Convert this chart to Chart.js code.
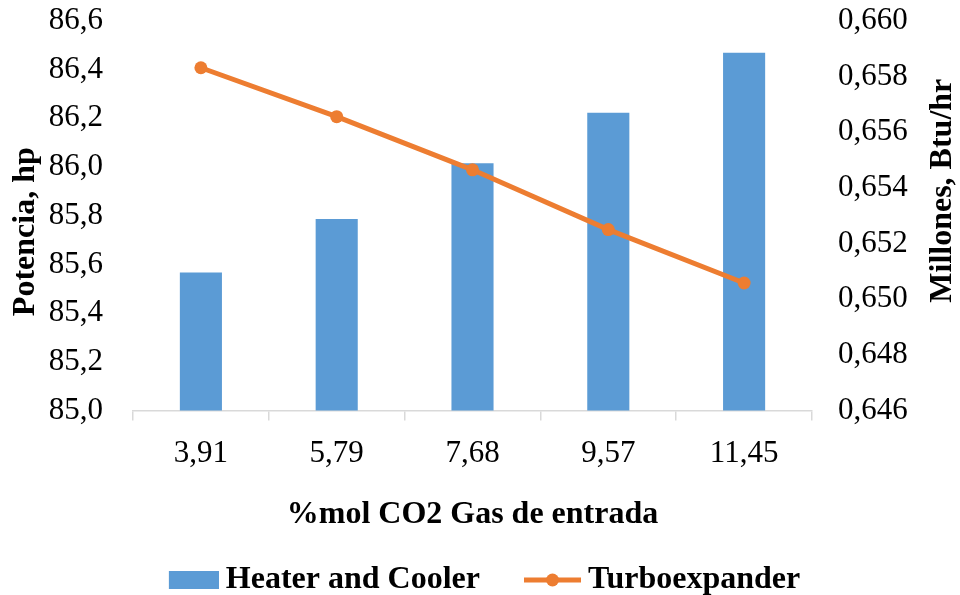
<!DOCTYPE html>
<html><head><meta charset="utf-8">
<script src="https://cdn.jsdelivr.net/npm/chart.js@4"></script>
<style>html,body{margin:0;padding:0;background:#fff}</style>
</head><body>
<canvas id="c" width="960" height="595"></canvas>
<script>
const categories = ['3,91', '5,79', '7,68', '9,57', '11,45'];
const heaterCooler = [85.567, 85.786, 86.016, 86.223, 86.47];
const turboexpander = [0.65832, 0.65656, 0.65465, 0.6525, 0.65058];
const seriesNames = ['Heater and Cooler', 'Turboexpander'];
const leftTitleText = 'Potencia, hp';
const rightTitleText = 'Millones, Btu/hr';
const xTitle = '%mol CO2 Gas de entrada';

const BLUE = '#5b9bd5', ORANGE = '#ed7d31';
const FONT = '"Liberation Serif", "Times New Roman", serif';

function legendImg(kind) {
  const W = 68, H = 20;
  const cv = document.createElement('canvas');
  cv.width = W; cv.height = H;
  const g = cv.getContext('2d');
  if (kind === 'bar') {
    g.fillStyle = BLUE;
    g.fillRect(W - 50, 1, 50, 18);
  } else {
    g.strokeStyle = ORANGE; g.lineWidth = 5;
    g.beginPath(); g.moveTo(W - 57, 10); g.lineTo(W, 10); g.stroke();
    g.fillStyle = ORANGE;
    g.beginPath(); g.arc(W - 28.5, 10, 6.5, 0, Math.PI * 2); g.fill();
  }
  return cv;
}
const imgs = [legendImg('bar'), legendImg('line')];

const axisTitlesPlugin = {
  id: 'axisTitles',
  afterDraw(chart) {
    const a = chart.chartArea, ctx = chart.ctx;
    const mid = (a.top + a.bottom) / 2;
    const draw = (text, x, y) => {
      ctx.save();
      ctx.translate(x, y);
      ctx.rotate(-Math.PI / 2);
      ctx.font = 'bold 32px ' + FONT;
      ctx.fillStyle = '#000';
      ctx.textAlign = 'center';
      ctx.textBaseline = 'middle';
      ctx.fillText(text, 0, 0);
      ctx.restore();
    };
    draw(leftTitleText, chart.scales.y.left + 26, mid + 16);
    draw(rightTitleText, chart.scales.y1.right - 17, mid - 25);
  }
};

new Chart(document.getElementById('c'), {
  data: {
    labels: categories,
    datasets: [
      { type: 'bar', label: seriesNames[0], data: heaterCooler, yAxisID: 'y',
        backgroundColor: BLUE, borderWidth: 0, barPercentage: 0.31, categoryPercentage: 1, order: 2 },
      { type: 'line', label: seriesNames[1], data: turboexpander, yAxisID: 'y1',
        borderColor: ORANGE, backgroundColor: ORANGE, borderWidth: 5, pointRadius: 6.5,
        pointHoverRadius: 6.5, pointBackgroundColor: ORANGE, pointBorderWidth: 0, tension: 0, order: 1 }
    ]
  },
  options: {
    responsive: false,
    animation: false,
    layout: { padding: { top: 21, right: 0, left: 0, bottom: -11 } },
    plugins: {
      tooltip: { enabled: false },
      legend: {
        position: 'bottom',
        labels: {
          usePointStyle: true,
          pointStyleWidth: 50,
          padding: 42,
          color: '#000',
          font: { family: FONT, size: 32, weight: 'bold' },
          generateLabels: () => seriesNames.map((n, i) => ({
            text: n, pointStyle: imgs[i], fillStyle: 'transparent', strokeStyle: 'transparent',
            lineWidth: 0, datasetIndex: i, hidden: false
          }))
        }
      }
    },
    scales: {
      x: {
        offset: true,
        grid: { display: true, drawOnChartArea: false, drawTicks: true, tickLength: 10, color: '#d9d9d9', lineWidth: 1.5, offset: true },
        border: { display: true, color: '#d9d9d9', width: 1.5 },
        ticks: { color: '#000', font: { family: FONT, size: 31 }, padding: 15, maxRotation: 0 },
        title: { display: true, text: xTitle, color: '#000', font: { family: FONT, size: 32, weight: 'bold' }, padding: { top: 8, bottom: -12 } }
      },
      y: {
        position: 'left',
        min: 85.0, max: 86.6,
        afterFit(s) { s.width = 133; s.paddingTop = 0; s.paddingBottom = 0; },
        grid: { display: false, drawTicks: false },
        border: { display: false },
        ticks: { stepSize: 0.2, padding: 30, color: '#000', font: { family: FONT, size: 31 },
          callback: v => Number(v).toFixed(1).replace('.', ',') }
      },
      y1: {
        position: 'right',
        min: 0.646, max: 0.660,
        afterFit(s) { s.width = 148; s.paddingTop = 0; s.paddingBottom = 0; },
        grid: { display: false, drawTicks: false },
        border: { display: false },
        ticks: { stepSize: 0.002, padding: 26, color: '#000', font: { family: FONT, size: 31 },
          callback: v => Number(v).toFixed(3).replace('.', ',') }
      }
    }
  },
  plugins: [axisTitlesPlugin]
});
</script>
</body></html>
